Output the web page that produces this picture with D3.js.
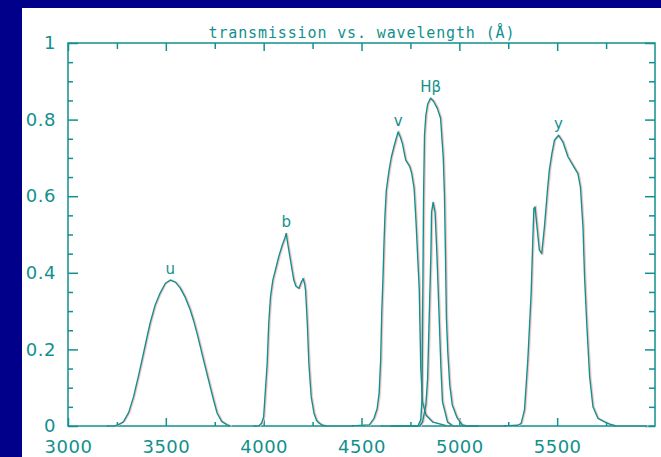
<!DOCTYPE html>
<html>
<head>
<meta charset="utf-8">
<script src="https://cdn.jsdelivr.net/npm/d3@7"></script>
<style>
	html, body { margin: 0; padding: 0; background: #00008a; overflow: hidden; }
	svg { display: block; }
</style>
</head>
<body>
<div id="chart-container"></div>
<script>
// filter transmission curves, [wavelength (Å), transmission]
const uCurve = [[3200,0],[3241,0],[3260,0.004],[3283,0.011],[3310,0.035],[3335,0.076],[3360,0.13],[3386,0.19],[3405,0.235],[3420,0.269],[3445,0.315],[3471,0.347],[3497,0.372],[3523,0.381],[3550,0.375],[3574,0.36],[3600,0.335],[3625,0.303],[3642,0.275],[3659,0.243],[3676,0.208],[3693,0.172],[3710,0.137],[3727,0.102],[3745,0.066],[3762,0.034],[3785,0.012],[3813,0.003],[3830,0]];
const bCurve = [[3950,0],[3975,0],[3990,0.008],[4000,0.024],[4009,0.094],[4018,0.164],[4026,0.269],[4035,0.337],[4047,0.381],[4060,0.407],[4077,0.442],[4095,0.472],[4108,0.49],[4115,0.503],[4125,0.47],[4137,0.433],[4154,0.381],[4165,0.365],[4180,0.359],[4192,0.375],[4202,0.385],[4210,0.37],[4214,0.355],[4223,0.269],[4231,0.164],[4243,0.076],[4257,0.034],[4270,0.015],[4282,0.008],[4300,0.002],[4325,0],[4460,0]];
const vCurve = [[4450,0],[4540,0.003],[4564,0.02],[4580,0.045],[4590,0.085],[4598,0.172],[4603,0.285],[4610,0.39],[4615,0.477],[4620,0.55],[4627,0.616],[4641,0.668],[4653,0.703],[4666,0.729],[4677,0.75],[4687,0.768],[4698,0.755],[4709,0.738],[4726,0.694],[4747,0.677],[4757,0.659],[4769,0.62],[4778,0.54],[4786,0.454],[4795,0.36],[4798,0.282],[4803,0.151],[4812,0.063],[4829,0.029],[4865,0.01],[4931,0.001],[4960,0]];
const hbWideCurve = [[4600,0],[4700,0],[4788,0],[4803,0.016],[4809,0.068],[4811,0.198],[4814,0.381],[4817,0.59],[4822,0.759],[4829,0.811],[4838,0.84],[4853,0.856],[4868,0.848],[4887,0.83],[4904,0.804],[4918,0.7],[4924,0.603],[4929,0.454],[4934,0.282],[4941,0.193],[4951,0.107],[4964,0.055],[4989,0.021],[5015,0.003],[5039,0],[5240,0]];
const hbNarrowCurve = [[4650,0],[4798,0],[4812,0.011],[4829,0.055],[4838,0.125],[4846,0.282],[4855,0.454],[4858,0.558],[4866,0.584],[4876,0.558],[4885,0.454],[4897,0.282],[4906,0.151],[4914,0.063],[4940,0.01],[4967,0],[5100,0]];
const yCurve = [[5230,0],[5300,0.002],[5316,0.007],[5333,0.042],[5350,0.172],[5367,0.346],[5375,0.477],[5381,0.568],[5387,0.572],[5397,0.52],[5409,0.459],[5421,0.45],[5435,0.52],[5449,0.607],[5460,0.668],[5473,0.711],[5486,0.746],[5507,0.759],[5529,0.742],[5555,0.703],[5580,0.681],[5606,0.659],[5619,0.624],[5632,0.52],[5640,0.39],[5652,0.259],[5666,0.129],[5683,0.05],[5708,0.02],[5742,0.011],[5768,0.005],[5800,0],[5960,0]];

const curves = [uCurve, bCurve, vCurve, hbWideCurve, hbNarrowCurve, yCurve];
const curveLabels = ['u', 'b', 'v', 'Hβ', '', 'y'];

const xDomain = [3000, 6000];
const yDomain = [0, 1];
const xMajorTicks = [3000, 3500, 4000, 4500, 5000, 5500];
const xMinorTicks = [3250, 3750, 4250, 4750, 5250, 5750];
const yMajorTicks = [0, 0.2, 0.4, 0.6, 0.8, 1];
const yMinorTicks = [0.05, 0.1, 0.15, 0.25, 0.3, 0.35, 0.45, 0.5, 0.55, 0.65, 0.7, 0.75, 0.85, 0.9, 0.95];

const title = 'transmission vs. wavelength (Å)';

const teal = '#12908d';
const fringe = '#f8c4c4';
const font = "'DejaVu Sans', sans-serif";
const W = 661, H = 457;
const plot = {left: 68, right: 655, top: 43, bottom: 426};

const svg = d3.select('#chart-container').append('svg')
	.attr('width', W)
	.attr('height', H);

svg.append('rect')
	.attr('x', 0).attr('y', 0)
	.attr('width', W).attr('height', H)
	.attr('fill', '#00008a');

svg.append('rect')
	.attr('x', 22).attr('y', 8)
	.attr('width', W - 22).attr('height', H - 8)
	.attr('fill', '#ffffff');

const xScale = d3.scaleLinear().domain(xDomain).range([plot.left, plot.right]);
const yScale = d3.scaleLinear().domain(yDomain).range([plot.bottom, plot.top]);

const drawAxis = (axis, transform) => {
	const g = svg.append('g')
		.attr('transform', transform)
		.call(axis)
		.attr('font-family', font)
		.attr('font-size', 18);
	g.select('.domain').remove();
	g.selectAll('line').attr('stroke', teal).attr('stroke-width', 1.5);
	g.selectAll('text').attr('fill', teal).style('letter-spacing', '0.5px');
	return g;
};

const fmt = d3.format('~g');

// bottom
drawAxis(d3.axisBottom(xScale).tickValues(xMajorTicks).tickSize(-8).tickPadding(14).tickFormat(d3.format('d')), `translate(0,${plot.bottom})`);
drawAxis(d3.axisBottom(xScale).tickValues(xMinorTicks).tickSize(-4).tickFormat(''), `translate(0,${plot.bottom})`);
// top
drawAxis(d3.axisTop(xScale).tickValues(xMajorTicks).tickSize(-8).tickFormat(''), `translate(0,${plot.top})`);
drawAxis(d3.axisTop(xScale).tickValues(xMinorTicks).tickSize(-6).tickFormat(''), `translate(0,${plot.top})`);
// left
drawAxis(d3.axisLeft(yScale).tickValues(yMajorTicks).tickSize(-10).tickPadding(12).tickFormat(fmt), `translate(${plot.left},0)`);
drawAxis(d3.axisLeft(yScale).tickValues(yMinorTicks).tickSize(-5).tickFormat(''), `translate(${plot.left},0)`);
// right
drawAxis(d3.axisRight(yScale).tickValues(yMajorTicks).tickSize(-10).tickFormat(''), `translate(${plot.right},0)`);
drawAxis(d3.axisRight(yScale).tickValues(yMinorTicks).tickSize(-6).tickFormat(''), `translate(${plot.right},0)`);

svg.append('rect')
	.attr('x', plot.left).attr('y', plot.top)
	.attr('width', plot.right - plot.left)
	.attr('height', plot.bottom - plot.top)
	.attr('fill', 'none')
	.attr('stroke', teal)
	.attr('stroke-width', 1.5);

const line = d3.line()
	.x(d => xScale(d[0]))
	.y(d => yScale(d[1]));

// faint pink halo offset to the right, like the scanned original
svg.append('g')
	.attr('transform', 'translate(1.2,0)')
	.selectAll('.halo')
	.data(curves)
	.enter()
	.append('path')
	.attr('class', 'halo')
	.attr('d', line)
	.attr('fill', 'none')
	.attr('stroke', fringe)
	.attr('stroke-width', 1.4);

svg.selectAll('.curve')
	.data(curves)
	.enter()
	.append('path')
	.attr('class', 'curve')
	.attr('d', line)
	.attr('fill', 'none')
	.attr('stroke', teal)
	.attr('stroke-width', 1.4)
	.attr('stroke-linejoin', 'round');

// label sits just above each curve's peak
svg.selectAll('.label')
	.data(curves.map((c, i) => ({peak: d3.greatest(c, d => d[1]), text: curveLabels[i]})).filter(d => d.text))
	.enter()
	.append('text')
	.attr('class', 'label')
	.attr('x', d => xScale(d.peak[0]))
	.attr('y', d => yScale(d.peak[1]) - 6)
	.attr('text-anchor', 'middle')
	.attr('font-family', font)
	.attr('font-size', 15)
	.attr('fill', teal)
	.text(d => d.text);

svg.append('text')
	.attr('x', (plot.left + plot.right) / 2)
	.attr('y', 38)
	.attr('text-anchor', 'middle')
	.attr('font-family', "'DejaVu Sans Mono', monospace")
	.attr('font-size', 15)
	.attr('fill', teal)
	.attr('textLength', 306)
	.attr('lengthAdjust', 'spacing')
	.text(title);
</script>
</body>
</html>
